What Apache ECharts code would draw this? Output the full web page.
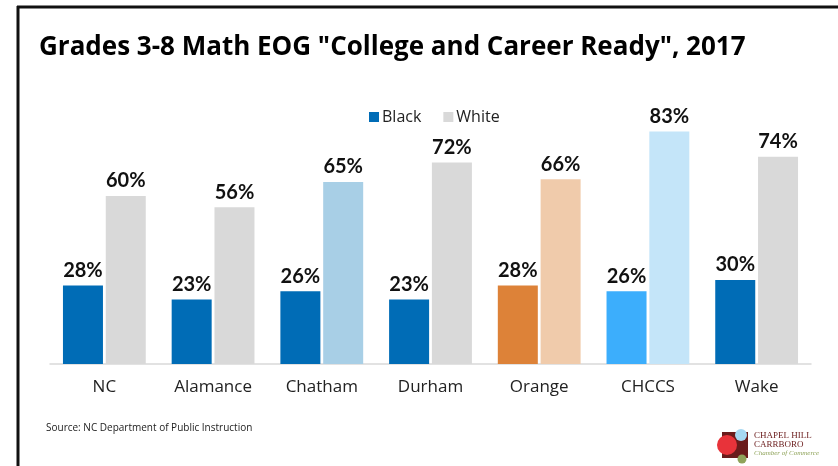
<!DOCTYPE html>
<html><head><meta charset="utf-8">
<script src="https://cdn.jsdelivr.net/npm/echarts@6/dist/echarts.min.js"></script>
<style>html,body{margin:0;padding:0;background:#fff}#c{width:838px;height:466px}</style>
</head><body><div id="c"></div>
<script>
const categories = ['NC','Alamance','Chatham','Durham','Orange','CHCCS','Wake'];
const blackValues = [28,23,26,23,28,26,30];
const whiteValues = [60,56,65,72,66,83,74];
const seriesNames = ['Black','White'];
const titleText = 'Grades 3-8 Math EOG "College and Career Ready", 2017';
const sourceText = 'Source: NC Department of Public Instruction';

const blackColors = ['#006cb6','#006cb6','#006cb6','#006cb6','#dd8238','#3caefc','#006cb6'];
const whiteColors = ['#d9d9d9','#d9d9d9','#a8cfe6','#d9d9d9','#f0cbab','#c4e5f9','#d9d9d9'];

const chart = echarts.init(document.getElementById('c'), null, {renderer:'canvas'});
const lbl = {show:true, position:'top', distance:5, formatter:'{c}%', color:'#111', fontFamily:'Lato', fontWeight:'bold', fontSize:20};
chart.setOption({
  animation:false,
  backgroundColor:'#fff',
  title:{text:titleText, left:34, top:30, textStyle:{fontFamily:'Open Sans', fontWeight:'bold', fontSize:26, color:'#000'}},
  legend:{data:[{name:'Black', itemStyle:{color:'#006cb6'}},{name:'White', itemStyle:{color:'#d9d9d9'}}], top:104, left:364, itemWidth:10, itemHeight:10, itemGap:22, icon:'rect',
    textStyle:{fontFamily:'Open Sans', fontSize:16, color:'#222', padding:[0,0,0,-2]}},
  grid:{left:50, right:27, top:84, bottom:102},
  xAxis:{type:'category', data:categories, axisLine:{lineStyle:{color:'#d9d9d9', width:1.5}}, axisTick:{show:false},
    axisLabel:{fontFamily:'Open Sans', fontSize:17, color:'#222', margin:15}},
  yAxis:{type:'value', min:0, max:100, show:false, splitLine:{show:false}},
  series:[
    {name:seriesNames[0], type:'bar', barWidth:40, barGap:'7%', label:lbl,
      data:blackValues.map((v,i)=>({value:v, itemStyle:{color:blackColors[i]}}))},
    {name:seriesNames[1], type:'bar', barWidth:40, label:lbl,
      data:whiteValues.map((v,i)=>({value:v, itemStyle:{color:whiteColors[i]}}))}
  ],
  graphic:[
    {type:'line', shape:{x1:17, y1:7, x2:838, y2:7}, style:{stroke:'#111', lineWidth:3}},
    {type:'line', shape:{x1:18, y1:6, x2:18, y2:466}, style:{stroke:'#111', lineWidth:3}},
    {type:'text', left:46, top:423, style:{text:sourceText, font:'10px "Open Sans"', fill:'#222'}},
    {type:'rect', shape:{x:722, y:432, width:26, height:26}, style:{fill:'#6a1b1b'}},
    {type:'circle', shape:{cx:727, cy:445, r:10}, style:{fill:'#e8333a'}},
    {type:'circle', shape:{cx:741, cy:435, r:6}, style:{fill:'#a6d8f2'}},
    {type:'circle', shape:{cx:742, cy:459, r:4.5}, style:{fill:'#8fa35a'}},
    {type:'text', left:754, top:431, style:{text:'CHAPEL HILL', font:'9px "Liberation Serif"', fill:'#6a1b1b'}},
    {type:'text', left:754, top:440, style:{text:'CARRBORO', font:'9px "Liberation Serif"', fill:'#6a1b1b'}},
    {type:'text', left:754, top:450, style:{text:'Chamber of Commerce', font:'italic 7px "Liberation Serif"', fill:'#8fa35a'}}
  ]
});
</script></body></html>
